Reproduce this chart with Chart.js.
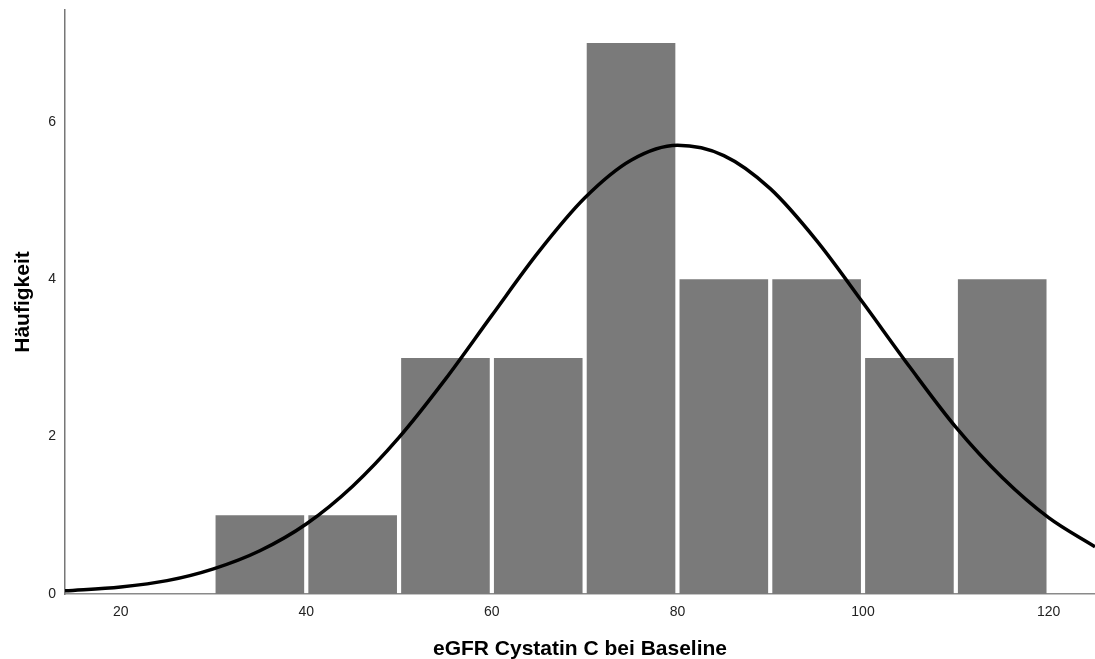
<!DOCTYPE html>
<html>
<head>
<meta charset="utf-8">
<script src="https://cdn.jsdelivr.net/npm/chart.js@4"></script>
<style>
  html, body { margin: 0; padding: 0; background: #fff; }
  #wrap { width: 1095px; height: 659px; }
</style>
</head>
<body>
<div id="wrap"><canvas id="hist" width="1095" height="659"></canvas></div>
<script>
// Histogramm: Klassenmitten (Breite 10) und Häufigkeiten
const binCenters = [35, 45, 55, 65, 75, 85, 95, 105, 115];
const counts = [1, 1, 3, 3, 7, 4, 4, 3, 4];

// Normalverteilungskurve
const curveX = [14, 20, 25, 30, 35, 40, 45, 50, 55, 60, 65, 70, 75, 80, 85, 90, 95, 100, 105, 110, 115, 120, 125];
const curveY = [0.04, 0.09, 0.17, 0.32, 0.55, 0.89, 1.37, 1.99, 2.73, 3.54, 4.34, 5.03, 5.51, 5.70, 5.57, 5.15, 4.49, 3.70, 2.89, 2.12, 1.48, 0.97, 0.60];

const xTicks = [20, 40, 60, 80, 100, 120];
const yTicks = [0, 2, 4, 6];

const fontFamily = '"Liberation Sans", Arial, sans-serif';

const ctx = document.getElementById('hist').getContext('2d');

new Chart(ctx, {
    data: {
        datasets: [
            {
                type: 'line',
                label: 'Normal',
                data: curveX.map((x, i) => ({ x: x, y: curveY[i] })),
                borderColor: '#000',
                borderWidth: 3.5,
                pointRadius: 0,
                fill: false,
                cubicInterpolationMode: 'monotone',
                order: 0
            },
            {
                type: 'bar',
                label: 'Häufigkeit',
                data: binCenters.map((x, i) => ({ x: x, y: counts[i] })),
                backgroundColor: '#7a7a7a',
                borderWidth: 0,
                barPercentage: 0.955,
                categoryPercentage: 1,
                grouped: false,
                order: 1
            }
        ]
    },
    options: {
        responsive: false,
        animation: false,
        layout: { padding: { top: 10, right: 0, left: 0, bottom: 0 } },
        plugins: {
            legend: { display: false },
            tooltip: { enabled: false }
        },
        scales: {
            x: {
                type: 'linear',
                min: 14,
                max: 125,
                offset: false,
                afterBuildTicks: (scale) => { scale.ticks = xTicks.map(v => ({ value: v })); },
                afterFit: (scale) => { scale.height = 65; },
                grid: { display: false, drawTicks: false },
                border: { display: true, color: '#8a8a8a', width: 1.5 },
                ticks: {
                    padding: 10,
                    color: '#222',
                    maxRotation: 0,
                    font: { family: fontFamily, size: 14 }
                },
                title: {
                    display: true,
                    text: 'eGFR Cystatin C bei Baseline',
                    color: '#000',
                    padding: { top: 8, bottom: -3 },
                    font: { family: fontFamily, size: 21, weight: 'bold' }
                }
            },
            y: {
                min: 0,
                max: 7.42,
                afterBuildTicks: (scale) => { scale.ticks = yTicks.map(v => ({ value: v })); },
                afterFit: (scale) => {
                    scale.width = 65;
                    scale.paddingTop = 0;
                    scale.paddingBottom = 0;
                },
                grid: { display: false, drawTicks: false },
                border: { display: true, color: '#777', width: 1.5 },
                ticks: {
                    padding: 9,
                    color: '#222',
                    font: { family: fontFamily, size: 14 }
                },
                title: {
                    display: true,
                    text: 'Häufigkeit',
                    color: '#000',
                    padding: { top: 11, bottom: 0 },
                    font: { family: fontFamily, size: 21, weight: 'bold' }
                }
            }
        }
    }
});
</script>
</body>
</html>
